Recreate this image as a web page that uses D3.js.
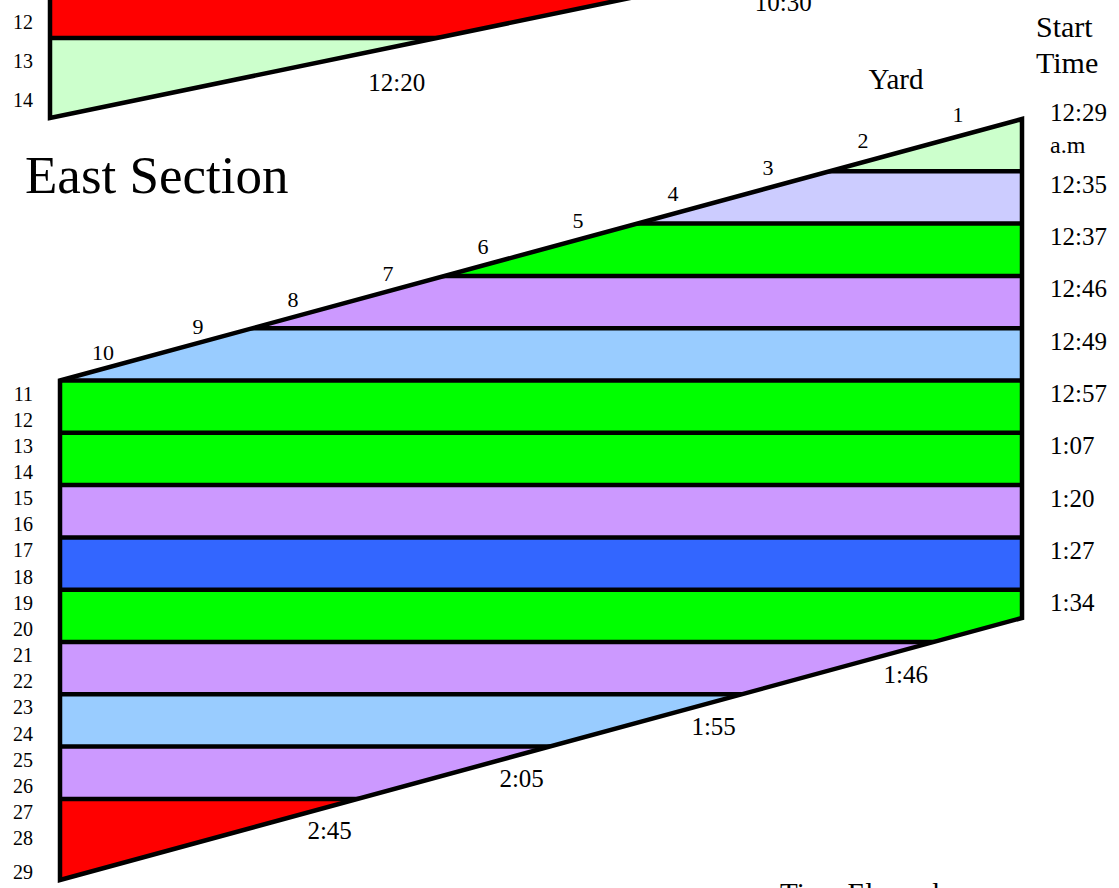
<!DOCTYPE html>
<html><head><meta charset="utf-8">
<script src="https://cdn.jsdelivr.net/npm/d3@7"></script>
<style>html,body{margin:0;padding:0;background:#fff;overflow:hidden}</style>
</head><body>
<svg id="chart" width="1119" height="888"></svg>
<script>
// ---------- data ----------
const yards = [1,2,3,4,5,6,7,8,9,10];
const startTimes = ["12:29","12:35","12:37","12:46","12:49","12:57","1:07","1:20","1:27","1:34"];
const endTimes = ["1:46","1:55","2:05","2:45"];
const bandColors = ["#CCFFCC","#CCCCFF","#00FF00","#CC99FF","#99CCFF","#00FF00","#00FF00","#CC99FF","#3366FF","#00FF00","#CC99FF","#99CCFF","#CC99FF","#FF0000"];
const rowLabels = [11,12,13,14,15,16,17,18,19,20,21,22,23,24,25,26,27,28,29];
// east shape edges in band units: [left side, right side]
const eastTop = [5, 0];
const eastBottom = [14.55, 9.54];

const westRows = [12,13,14];
const westColors = ["#FF0000","#CCFFCC"];
const westEndTimes = ["10:30","12:20"];
const westEdge = [2, 0.5]; // slanted edge band level at left and at reference point

// ---------- layout ----------
const svg = d3.select("#chart");
const FONT = "'Liberation Serif','Times New Roman',serif";
const SW = 4.5;

const xE = d3.scaleLinear().domain([0,1]).range([60,1022]);
const yE = d3.scaleLinear().domain([0,14]).range([119,119+14*52.3]);
const yardX = d3.scaleLinear().domain([1,10]).range([958,103]);
const yardY = d3.scaleLinear().domain([1,10]).range([122,360]);

const xW = d3.scaleLinear().domain([0,1]).range([50,630]);
const yW = d3.scaleLinear().domain([0,2]).range([-42,118]);

// ---------- West section (partial, top) ----------
const wSlope = (westEdge[1]-westEdge[0]);
const tAtW = k => (k - westEdge[0]) / wSlope;
const westPoly = [[xW(0), yW(-1)], [xW(0), yW(westEdge[0])], [xW(tAtW(-1)), yW(-1)]];
const defs = svg.append("defs");
defs.append("clipPath").attr("id","clipW").append("polygon")
  .attr("points", westPoly.map(p=>p.join(",")).join(" "));
const gW = svg.append("g");
gW.append("g").attr("clip-path","url(#clipW)")
  .selectAll("rect").data(westColors).join("rect")
  .attr("x", xW(0)).attr("width", 1200)
  .attr("y", (d,i)=> i===0 ? yW(-1) : yW(i))
  .attr("height", (d,i)=> i===0 ? yW(1)-yW(-1) : yW(3)-yW(1))
  .attr("fill", d=>d);
gW.append("g").attr("clip-path","url(#clipW)")
  .selectAll("line").data([1]).join("line")
  .attr("x1", xW(0)).attr("x2", 1200)
  .attr("y1", d=>yW(d)).attr("y2", d=>yW(d))
  .attr("stroke","#000").attr("stroke-width",SW);
gW.append("polyline")
  .attr("points", westPoly.map(p=>p.join(",")).join(" "))
  .attr("fill","none").attr("stroke","#000").attr("stroke-width",SW).attr("stroke-linejoin","miter");
gW.selectAll("text.wrow").data(westRows).join("text").attr("class","wrow")
  .attr("x",33).attr("y",(d,i)=>yW(0.8+i*0.49)+7)
  .attr("text-anchor","end").attr("font-family",FONT).attr("font-size",20).text(d=>d);
gW.selectAll("text.wend").data(westEndTimes).join("text").attr("class","wend")
  .attr("x",(d,i)=>xW(tAtW(i))-40).attr("y",(d,i)=>yW(i)+53)
  .attr("text-anchor","middle").attr("font-family",FONT).attr("font-size",25).text(d=>d);

// ---------- East section ----------
const eastPoly = [[xE(0), yE(eastTop[0])],[xE(1), yE(eastTop[1])],[xE(1), yE(eastBottom[1])],[xE(0), yE(eastBottom[0])]];
defs.append("clipPath").attr("id","clipE").append("polygon")
  .attr("points", eastPoly.map(p=>p.join(",")).join(" "));
const gE = svg.append("g");
gE.append("g").attr("clip-path","url(#clipE)")
  .selectAll("rect").data(bandColors).join("rect")
  .attr("x", xE(0)).attr("width", xE(1)-xE(0))
  .attr("y",(d,i)=>yE(i))
  .attr("height",(d,i)=> (i===bandColors.length-1 ? yE(i+2) : yE(i+1)) - yE(i))
  .attr("fill",d=>d);
gE.append("g").attr("clip-path","url(#clipE)")
  .selectAll("line").data(d3.range(1, bandColors.length)).join("line")
  .attr("x1", xE(0)).attr("x2", xE(1))
  .attr("y1", d=>yE(d)).attr("y2", d=>yE(d))
  .attr("stroke","#000").attr("stroke-width",SW);
gE.append("polygon")
  .attr("points", eastPoly.map(p=>p.join(",")).join(" "))
  .attr("fill","none").attr("stroke","#000").attr("stroke-width",SW).attr("stroke-linejoin","miter");

// yard labels
gE.selectAll("text.yard").data(yards).join("text").attr("class","yard")
  .attr("x",d=>yardX(d)).attr("y",d=>yardY(d))
  .attr("text-anchor","middle").attr("font-family",FONT).attr("font-size",22).text(d=>d);
// row labels
gE.selectAll("text.row").data(rowLabels).join("text").attr("class","row")
  .attr("x",33).attr("y",(d,i)=>yE(5.25+i*0.5)+7+(i===rowLabels.length-1?8:0))
  .attr("text-anchor","end").attr("font-family",FONT).attr("font-size",20).text(d=>d);
// start times
gE.selectAll("text.start").data(startTimes).join("text").attr("class","start")
  .attr("x",1050).attr("y",(d,i)=> i===0 ? yE(0)+2 : yE(i)+21.5)
  .attr("font-family",FONT).attr("font-size",25).text(d=>d);
gE.append("text").attr("x",1050).attr("y",yE(0)+34)
  .attr("font-family",FONT).attr("font-size",24).text("a.m");
// end times
const tAtBottom = k => (eastBottom[0]-k)/(eastBottom[0]-eastBottom[1]);
gE.selectAll("text.end").data(endTimes).join("text").attr("class","end")
  .attr("x",(d,i)=> xE(tAtBottom(10+i)) - 28)
  .attr("y",(d,i)=> yE(10+i)+32+8.5)
  .attr("text-anchor","middle").attr("font-family",FONT).attr("font-size",25).text(d=>d);

// titles
svg.append("text").attr("x",25).attr("y",193).attr("font-family",FONT).attr("font-size",53).text("East Section");
svg.append("text").attr("x",896).attr("y",89).attr("text-anchor","middle").attr("font-family",FONT).attr("font-size",29).text("Yard");
svg.append("text").attr("x",1036).attr("y",37).attr("font-family",FONT).attr("font-size",30).text("Start");
svg.append("text").attr("x",1036).attr("y",73).attr("font-family",FONT).attr("font-size",30).text("Time");
svg.append("text").attr("x",780).attr("y",903).attr("font-family",FONT).attr("font-size",29).text("Time Elapsed");
</script>
</body></html>
